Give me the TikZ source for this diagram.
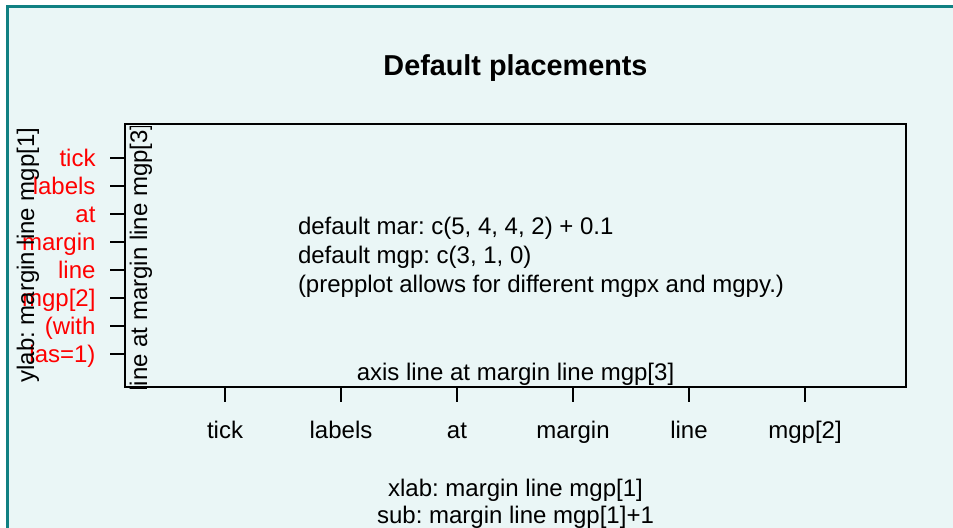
\documentclass[tikz,border=0pt]{standalone}
\usepackage{fontspec}
\setmainfont{Liberation Sans}
\frenchspacing
\definecolor{frameteal}{RGB}{16,128,130}
\definecolor{panelbg}{RGB}{234,246,246}
\definecolor{labred}{RGB}{255,0,0}
\tikzset{
  txt/.style={inner sep=0pt, outer sep=0pt, font=\fontsize{24bp}{28.8bp}\selectfont},
  redlab/.style={txt, text=labred, anchor=base east},
  xlab/.style={txt, anchor=base},
  axisline/.style={line width=2bp, black},
  tickmark/.style={line width=1.6bp, black},
}
\begin{document}
\begin{tikzpicture}[x=1bp,y=-1bp]
  \useasboundingbox (0,0) rectangle (953,528);
  % panel with teal frame on the left and top
  \fill[panelbg] (7,6.5) rectangle (953,528);
  \draw[frameteal, line width=2.6bp] (7.2,528) -- (7.2,6.6) -- (953,6.6);

  % title
  \node[txt, anchor=base, font=\fontsize{28.8bp}{34bp}\selectfont\bfseries] (title) at (515.5,76) {Default placements};

  % plot box
  \draw[axisline] (124.5,124.5) rectangle (906,386.5);

  % left axis ticks and red labels
  \foreach \y/\lab [count=\i] in {158/tick,186/labels,214/at,242/margin,270/line,298/{mgp[2]},326/(with,354/{las=1)}}{
    \coordinate (yt\i) at (124.5,\y);
    \coordinate (ytend\i) at (110,\y);
    \draw[tickmark] (yt\i) -- (ytend\i);
    \node[redlab] (ylab\i) at (95.5,\y+8.5) {\lab};
  }

  % bottom axis ticks and labels
  \foreach \x/\lab [count=\i] in {225/tick,341/labels,457/at,573/margin,689/line,805/{mgp[2]}}{
    \coordinate (xt\i) at (\x,386.5);
    \coordinate (xtend\i) at (\x,401.5);
    \draw[tickmark] (xt\i) -- (xtend\i);
    \node[xlab] (xlab\i) at (\x,438.3) {\lab};
  }

  % text inside the plot region
  \node[txt, anchor=base west] (mar) at (298,235) {default mar: c(5, 4, 4, 2) + 0.1};
  \node[txt, anchor=base west] (mgp) at (298,263.8) {default mgp: c(3, 1, 0)};
  \node[txt, anchor=base west] (prep) at (298,292.6) {(prepplot allows for different mgpx and mgpy.)};
  \node[txt, anchor=base] (axisnote) at (515.5,381) {axis line at margin line mgp[3]};

  % vertical axis note, clipped to the plot region
  \begin{scope}
    \clip (118,126.5) rectangle (906,388);
    \node[txt, anchor=base, rotate=90] (yaxisnote) at (147,257.5) {line at margin line mgp[3]};
  \end{scope}

  % axis titles
  \node[txt, anchor=base, rotate=90] (ylabel) at (34,255) {ylab: margin line mgp[1]};
  \node[txt, anchor=base] (xlabel) at (515.5,496) {xlab: margin line mgp[1]};
  \node[txt, anchor=base] (sublabel) at (515.5,523.3) {sub: margin line mgp[1]+1};
\end{tikzpicture}
\end{document}
